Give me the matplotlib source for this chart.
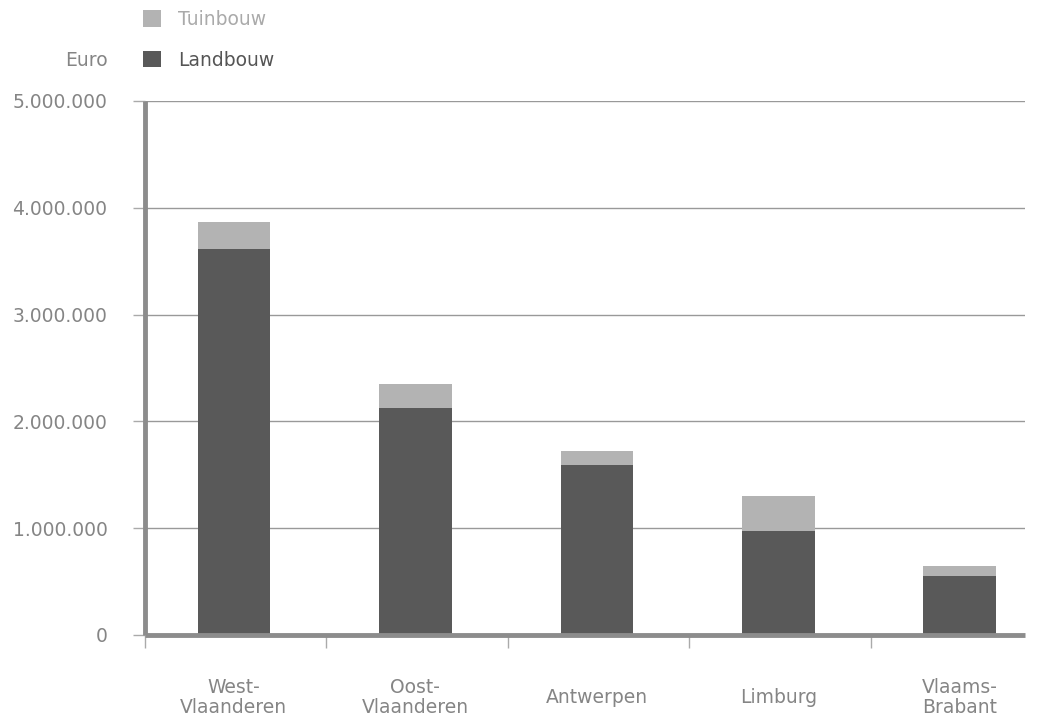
import matplotlib.pyplot as plt
from matplotlib.ticker import FuncFormatter, FixedLocator
import numpy as np

provincies = ['West-\nVlaanderen', 'Oost-\nVlaanderen', 'Antwerpen', 'Limburg', 'Vlaams-\nBrabant']
landbouw = [3610000, 2125000, 1590000, 975000, 555000]
tuinbouw = [260000, 225000, 130000, 325000, 95000]

grijs = '#858585'
donker = '#595959'
licht = '#b3b3b3'

plt.rcParams['font.family'] = ['DejaVu Sans']
plt.rcParams['font.size'] = 13.5

fig = plt.figure(figsize=(10.41, 7.16), dpi=100)
ax = fig.add_axes([145 / 1041, 1 - 635 / 716, (1025 - 145) / 1041, (635 - 101) / 716])

x = np.arange(len(provincies))
b1 = ax.bar(x, landbouw, width=0.4, color=donker, label='Landbouw', zorder=3)
b2 = ax.bar(x, tuinbouw, width=0.4, bottom=landbouw, color=licht, label='Tuinbouw', zorder=3)

ax.set_xlim(-0.49, 4.36)
ax.set_ylim(0, 5000000)
ax.set_yticks(np.arange(0, 5000001, 1000000))
ax.yaxis.set_major_formatter(FuncFormatter(lambda v, p: f'{int(v):,}'.replace(',', '.')))
ax.grid(axis='y', color='#999999', linewidth=1, zorder=0)

ax.set_xticks(x)
ax.set_xticklabels(provincies, color=grijs, linespacing=1.05, va='center')
ax.xaxis.set_minor_locator(FixedLocator(np.arange(-0.49, 4.4, 1.0)))
ax.tick_params(axis='x', which='major', length=0, pad=45, labelcolor=grijs)
ax.tick_params(axis='x', which='minor', length=9, width=1, color='#aaaaaa')
ax.tick_params(axis='y', length=9, width=1, color='#aaaaaa', pad=18, labelcolor=grijs)

for s in ['top', 'right']:
    ax.spines[s].set_visible(False)
for s in ['left', 'bottom']:
    ax.spines[s].set_color('#8c8c8c')
    ax.spines[s].set_linewidth(3.5)
    ax.spines[s].set_zorder(4)
    ax.spines[s].set_capstyle('butt')

leg = ax.legend(handles=[b2, b1], loc='upper left', bbox_to_anchor=(143 / 1041, 1 - 10 / 716),
                bbox_transform=fig.transFigure, frameon=False, handlelength=0.95, handleheight=0.95,
                handletextpad=0.9, labelspacing=1.15, borderpad=0, borderaxespad=0)
leg.get_texts()[0].set_color('#aaaaaa')
leg.get_texts()[1].set_color('#555555')

fig.text(108 / 1041, 1 - 60 / 716, 'Euro', ha='right', va='center', color=grijs)

fig.savefig('out.png', dpi=100)
